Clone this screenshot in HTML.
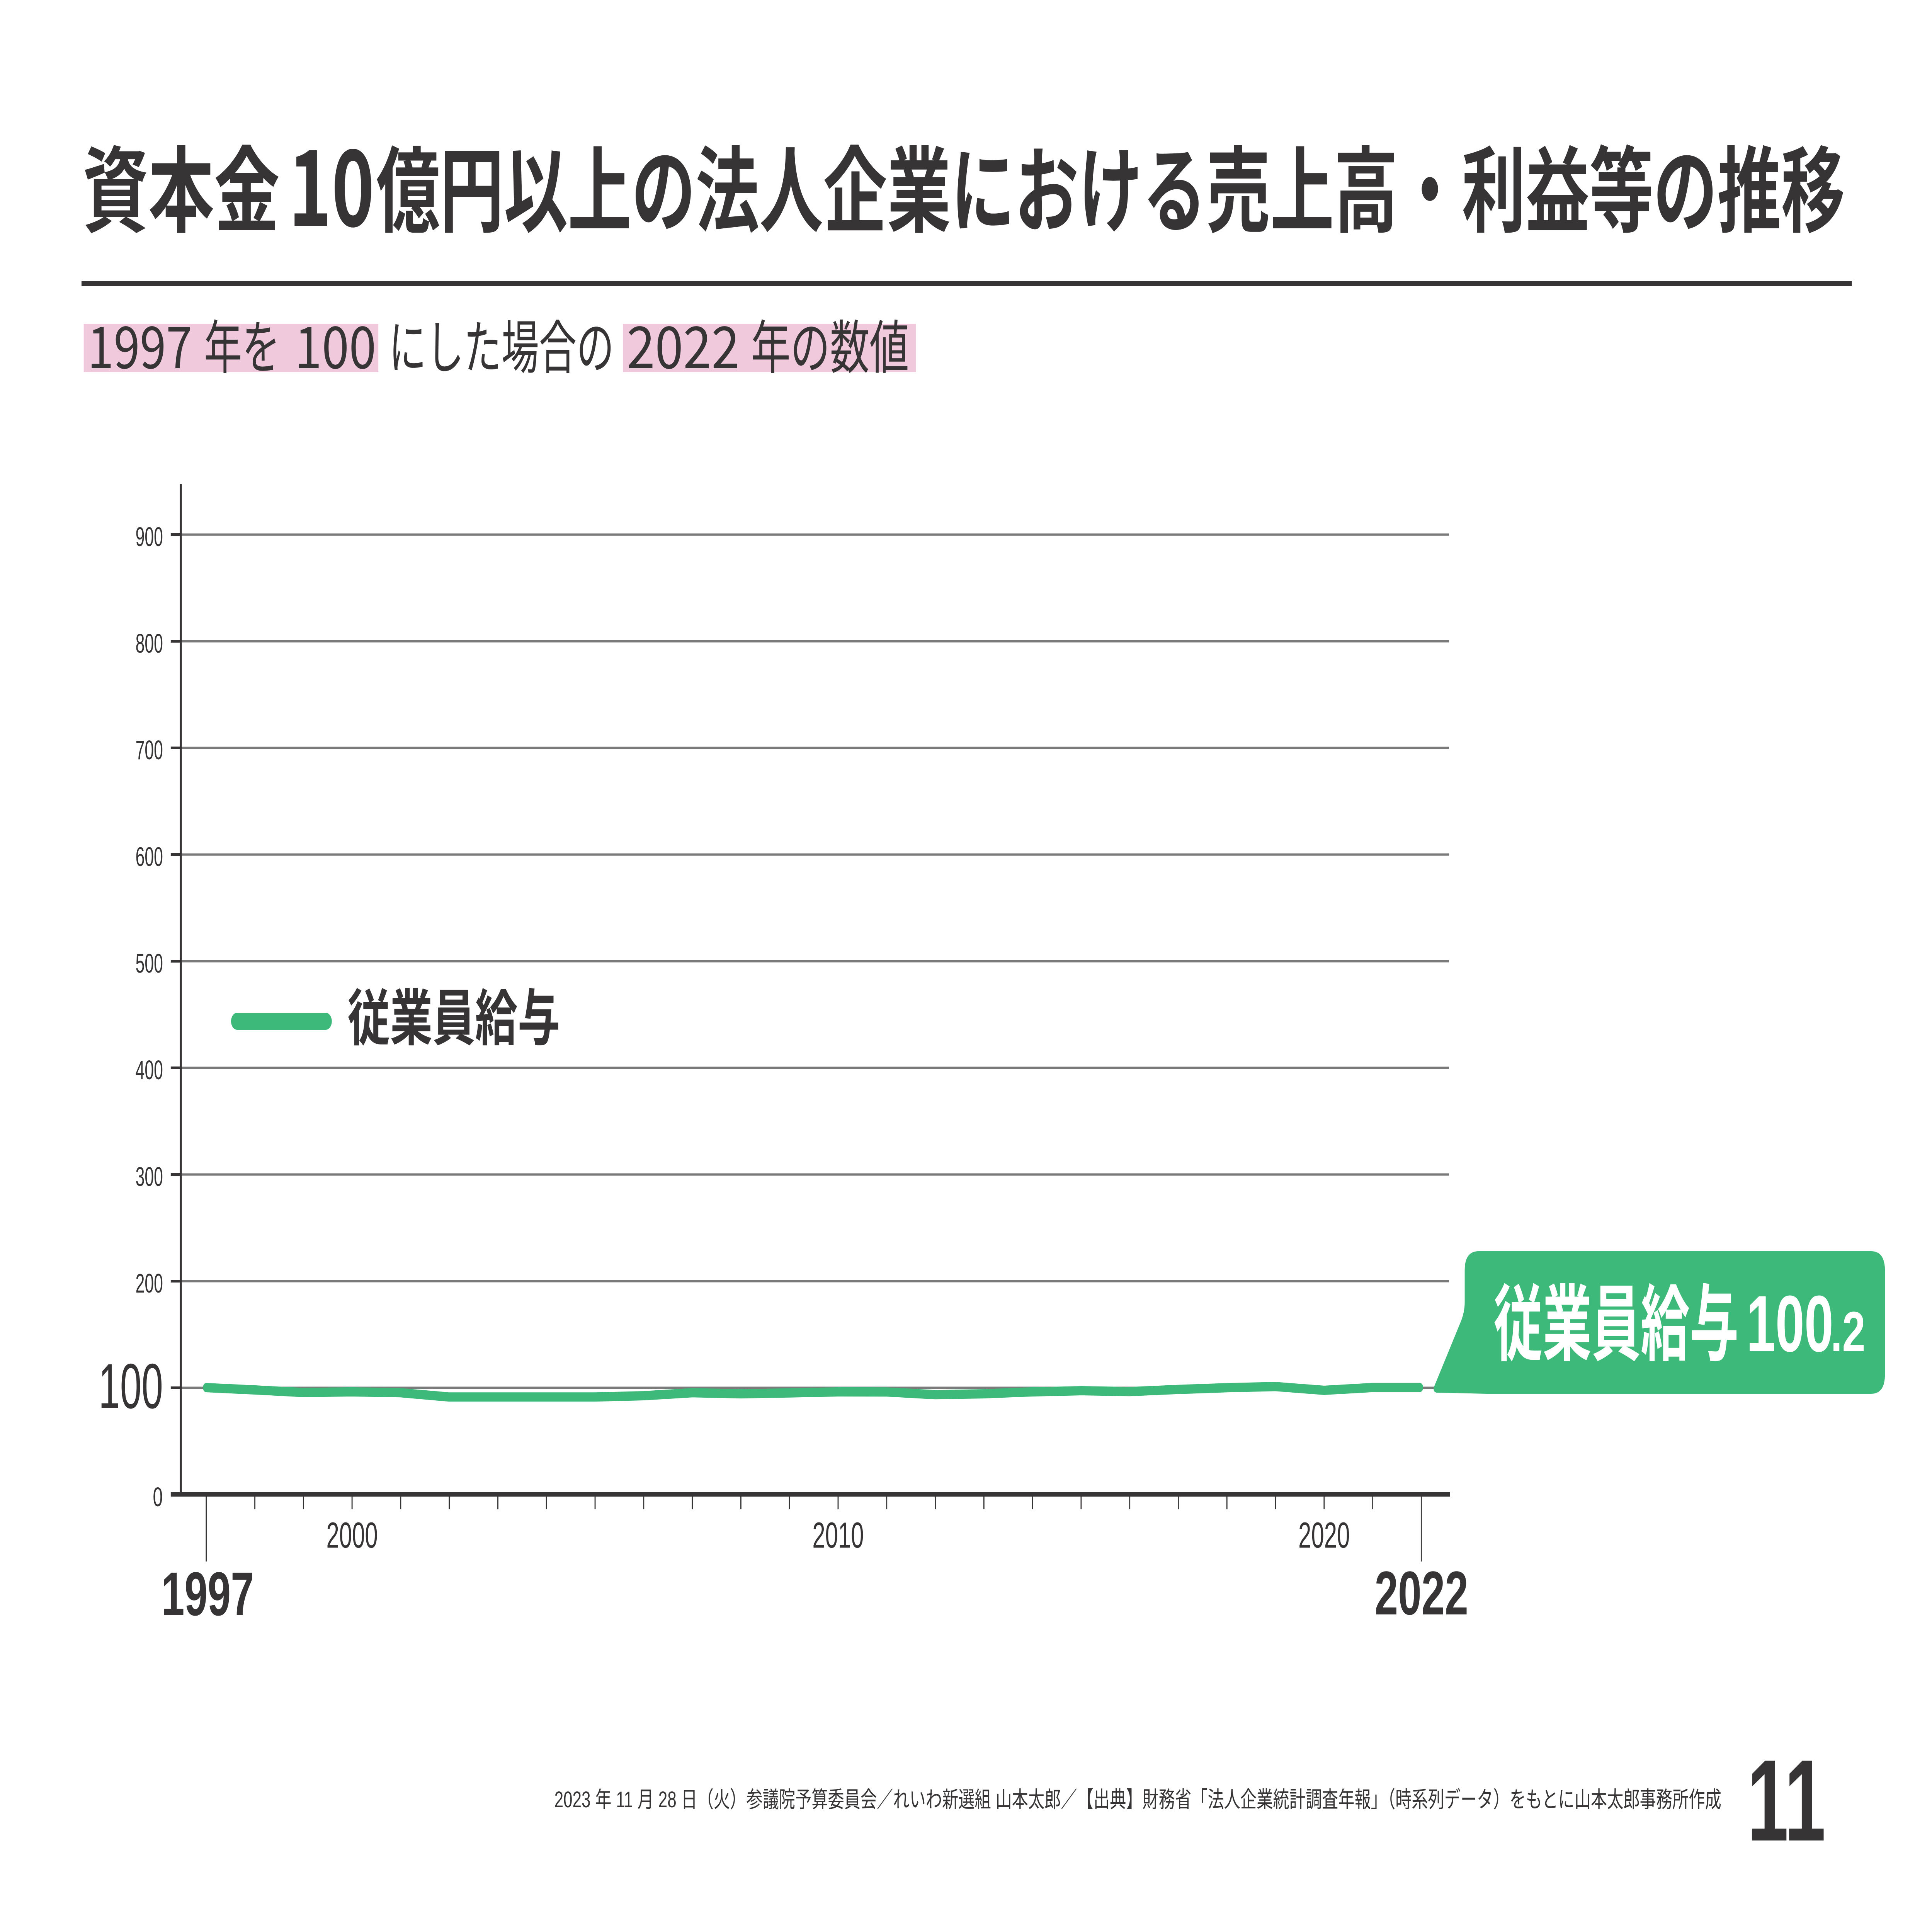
<!DOCTYPE html>
<html><head><meta charset="utf-8"><style>
html,body{margin:0;padding:0;background:#fff;width:100%;height:100%;overflow:hidden;}
svg{display:block;position:absolute;left:0;top:0;width:100vw;height:100vh;}
.jp{font-family:"Liberation Sans","Noto Sans CJK JP",sans-serif;}
.cj{font-family:"Noto Sans CJK JP","Liberation Sans",sans-serif;}
.la{font-family:"Liberation Sans",sans-serif;}
</style></head><body>
<svg viewBox="0 0 7016 4961" preserveAspectRatio="none" xmlns="http://www.w3.org/2000/svg">
<rect width="7016" height="4961" fill="#fff"/>
<!-- Title -->
<g fill="#363435" font-weight="700">
<text class="cj" x="300" y="581" font-size="242" textLength="716" lengthAdjust="spacingAndGlyphs">資本金</text>
<text class="cj" x="1048" y="585" font-size="272" textLength="312" lengthAdjust="spacingAndGlyphs">10</text>
<text class="cj" x="1366" y="581" font-size="242" textLength="5334" lengthAdjust="spacingAndGlyphs">億円以上の法人企業における売上高・利益等の推移</text>
</g>
<rect x="296" y="727" width="6429" height="13" fill="#363435"/>
<!-- Subtitle -->
<rect x="304" y="838" width="1070" height="125" fill="#f0c9dc"/>
<rect x="2262" y="838" width="1064" height="125" fill="#f0c9dc"/>
<g fill="#363435" font-size="150" class="cj">
<text x="318" y="953" textLength="380" lengthAdjust="spacingAndGlyphs">1997</text>
<text x="741" y="953" textLength="276" lengthAdjust="spacingAndGlyphs">年を</text>
<text x="1070" y="953" textLength="296" lengthAdjust="spacingAndGlyphs">100</text>
<text x="1412" y="953" textLength="818" lengthAdjust="spacingAndGlyphs">にした場合の</text>
<text x="2276" y="953" textLength="410" lengthAdjust="spacingAndGlyphs">2022</text>
<text x="2727" y="953" textLength="574" lengthAdjust="spacingAndGlyphs">年の数値</text>
</g>
<!-- Gridlines -->
<g stroke="#7a7a7a" stroke-width="6">
<line x1="656" y1="1383.5" x2="5262" y2="1383.5"/>
<line x1="656" y1="1659.5" x2="5262" y2="1659.5"/>
<line x1="656" y1="1935.5" x2="5262" y2="1935.5"/>
<line x1="656" y1="2211.5" x2="5262" y2="2211.5"/>
<line x1="656" y1="2487.5" x2="5262" y2="2487.5"/>
<line x1="656" y1="2763.5" x2="5262" y2="2763.5"/>
<line x1="656" y1="3039.5" x2="5262" y2="3039.5"/>
<line x1="656" y1="3315.5" x2="5262" y2="3315.5"/>
<line x1="656" y1="3591.5" x2="5262" y2="3591.5"/>
</g>
<!-- Y ticks -->
<g stroke="#363435" stroke-width="7">
<line x1="620" y1="1383.5" x2="656" y2="1383.5"/>
<line x1="620" y1="1659.5" x2="656" y2="1659.5"/>
<line x1="620" y1="1935.5" x2="656" y2="1935.5"/>
<line x1="620" y1="2211.5" x2="656" y2="2211.5"/>
<line x1="620" y1="2487.5" x2="656" y2="2487.5"/>
<line x1="620" y1="2763.5" x2="656" y2="2763.5"/>
<line x1="620" y1="3039.5" x2="656" y2="3039.5"/>
<line x1="620" y1="3315.5" x2="656" y2="3315.5"/>
<line x1="620" y1="3591.5" x2="656" y2="3591.5"/>
</g>
<!-- Axes -->
<rect x="652.5" y="1252" width="8" height="2620" fill="#363435"/>
<rect x="620" y="3861" width="4646" height="12" fill="#363435"/>
<!-- X ticks -->
<g stroke="#363435" stroke-width="4">
<line x1="749" y1="3873" x2="749" y2="4041"/>
<line x1="925.5" y1="3873" x2="925.5" y2="3906"/>
<line x1="1102" y1="3873" x2="1102" y2="3906"/>
<line x1="1278.5" y1="3873" x2="1278.5" y2="3906"/>
<line x1="1455" y1="3873" x2="1455" y2="3906"/>
<line x1="1631.5" y1="3873" x2="1631.5" y2="3906"/>
<line x1="1808" y1="3873" x2="1808" y2="3906"/>
<line x1="1984.5" y1="3873" x2="1984.5" y2="3906"/>
<line x1="2161" y1="3873" x2="2161" y2="3906"/>
<line x1="2337.5" y1="3873" x2="2337.5" y2="3906"/>
<line x1="2514" y1="3873" x2="2514" y2="3906"/>
<line x1="2690.5" y1="3873" x2="2690.5" y2="3906"/>
<line x1="2867" y1="3873" x2="2867" y2="3906"/>
<line x1="3043.5" y1="3873" x2="3043.5" y2="3906"/>
<line x1="3220" y1="3873" x2="3220" y2="3906"/>
<line x1="3396.5" y1="3873" x2="3396.5" y2="3906"/>
<line x1="3573" y1="3873" x2="3573" y2="3906"/>
<line x1="3749.5" y1="3873" x2="3749.5" y2="3906"/>
<line x1="3926" y1="3873" x2="3926" y2="3906"/>
<line x1="4102.5" y1="3873" x2="4102.5" y2="3906"/>
<line x1="4279" y1="3873" x2="4279" y2="3906"/>
<line x1="4455.5" y1="3873" x2="4455.5" y2="3906"/>
<line x1="4632" y1="3873" x2="4632" y2="3906"/>
<line x1="4808.5" y1="3873" x2="4808.5" y2="3906"/>
<line x1="4985" y1="3873" x2="4985" y2="3906"/>
<line x1="5161.5" y1="3873" x2="5161.5" y2="4041"/>
</g>
<!-- Y labels -->
<g fill="#363435" class="la" font-size="70">
<text x="492" y="1413" textLength="100" lengthAdjust="spacingAndGlyphs">900</text>
<text x="492" y="1689" textLength="100" lengthAdjust="spacingAndGlyphs">800</text>
<text x="492" y="1965" textLength="100" lengthAdjust="spacingAndGlyphs">700</text>
<text x="492" y="2241" textLength="100" lengthAdjust="spacingAndGlyphs">600</text>
<text x="492" y="2517" textLength="100" lengthAdjust="spacingAndGlyphs">500</text>
<text x="492" y="2793" textLength="100" lengthAdjust="spacingAndGlyphs">400</text>
<text x="492" y="3069" textLength="100" lengthAdjust="spacingAndGlyphs">300</text>
<text x="492" y="3345" textLength="100" lengthAdjust="spacingAndGlyphs">200</text>
<text x="555" y="3898" textLength="36" lengthAdjust="spacingAndGlyphs">0</text>
</g>
<text class="la" fill="#363435" x="358" y="3644" font-size="165" textLength="234" lengthAdjust="spacingAndGlyphs">100</text>
<!-- X labels -->
<g fill="#363435" class="la" font-size="94">
<text x="1185" y="4005" textLength="187" lengthAdjust="spacingAndGlyphs">2000</text>
<text x="2950" y="4005" textLength="187" lengthAdjust="spacingAndGlyphs">2010</text>
<text x="4715" y="4005" textLength="187" lengthAdjust="spacingAndGlyphs">2020</text>
</g>
<g fill="#363435" class="la" font-size="160" font-weight="700">
<text x="586" y="4180" textLength="336" lengthAdjust="spacingAndGlyphs">1997</text>
<text x="4992" y="4178" textLength="340" lengthAdjust="spacingAndGlyphs">2022</text>
</g>
<!-- Legend -->
<line x1="861" y1="2643" x2="1183" y2="2643" stroke="#3dba7a" stroke-width="44" stroke-linecap="round"/>
<text class="cj" fill="#363435" font-weight="700" x="1262" y="2691" font-size="158" textLength="772" lengthAdjust="spacingAndGlyphs">従業員給与</text>
<!-- Series -->
<polyline fill="none" stroke="#3dba7a" stroke-width="24" stroke-linecap="round" stroke-linejoin="round"
points="749,3591 925.5,3597 1102,3603.7 1278.5,3602 1455,3604.3 1631.5,3615.3 1808,3615.3 1984.5,3615.3 2161,3615.3 2337.5,3612 2514,3604.3 2690.5,3607 2867,3604.7 3043.5,3602 3220,3602.3 3396.5,3609.3 3573,3607 3749.5,3602 3926,3599 4102.5,3601.3 4279,3595.7 4455.5,3591.3 4632,3588.3 4808.5,3598 4985,3590.7 5156,3590.7"/>
<!-- Callout -->
<path d="M5369,3238 H6795 Q6845,3238 6845,3288 V3557 Q6845,3607 6795,3607 H5400 L5216,3604 Q5200,3600 5210,3585 L5305,3420 Q5319,3395 5319,3370 V3288 Q5319,3238 5369,3238 Z" fill="#3dba7a"/>
<g fill="#fff" font-weight="700">
<text class="cj" x="5424" y="3503" font-size="215" textLength="890" lengthAdjust="spacingAndGlyphs">従業員給与</text>
<text class="la" x="6342" y="3497" font-size="207" textLength="316" lengthAdjust="spacingAndGlyphs">100</text>
<text class="la" x="6648" y="3497" font-size="147" textLength="126" lengthAdjust="spacingAndGlyphs">.2</text>
</g>
<!-- Footer -->
<text class="jp" fill="#363435" x="2013" y="4677" font-size="58" textLength="4238" lengthAdjust="spacingAndGlyphs">2023 年 11 月 28 日（火）参議院予算委員会／れいわ新選組 山本太郎／【出典】財務省「法人企業統計調査年報」（時系列データ）をもとに山本太郎事務所作成</text>
<text class="la" fill="#363435" font-weight="700" x="6345" y="4763" font-size="300" textLength="285" lengthAdjust="spacingAndGlyphs">11</text>
</svg>
</body></html>
